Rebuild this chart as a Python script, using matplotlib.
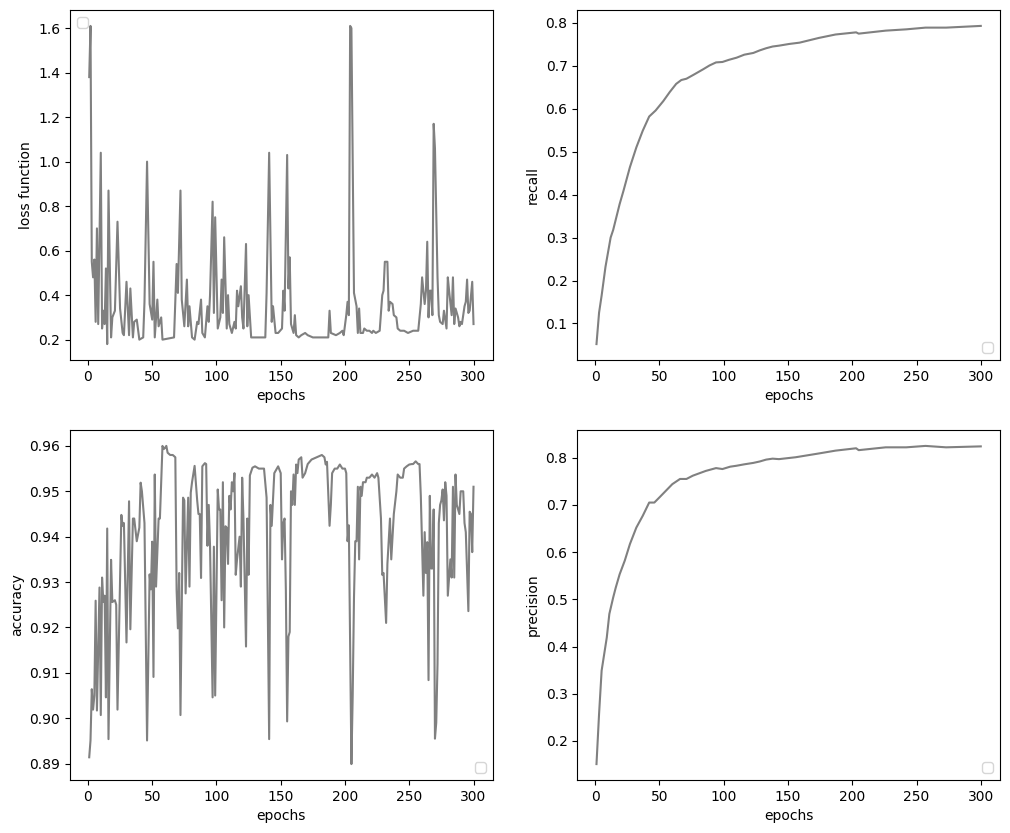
import matplotlib
matplotlib.use("Agg")
import matplotlib.pyplot as plt

# values (epoch, value)
loss_epochs = [1, 2, 3, 4, 5, 6, 7, 8, 10, 11, 12, 13, 14, 15, 16, 18, 19, 21, 23, 25,
               27, 28, 30, 32, 33, 35, 36, 38, 40, 43, 44, 46, 48, 50, 51, 52, 54, 55, 57, 58,
               67, 69, 70, 72, 73, 75, 77, 78, 79, 81, 83, 85, 86, 88, 89, 91, 93, 94, 95, 97,
               98, 99, 101, 103, 104, 105, 106, 108, 109, 110, 112, 114, 115, 116, 117, 119, 120, 121, 123, 124,
               125, 127, 138, 139, 141, 143, 144, 146, 148, 151, 152, 153, 155, 156, 157, 158, 160, 161, 162, 164,
               166, 169, 171, 175, 183, 187, 188, 189, 193, 196, 198, 199, 201, 202, 203, 204, 205, 207, 209, 210,
               211, 212, 214, 215, 217, 219, 221, 222, 224, 227, 229, 230, 231, 233, 234, 235, 237, 238, 240, 241,
               243, 246, 249, 253, 257, 259, 260, 262, 263, 264, 265, 266, 267, 268, 269, 270, 272, 273, 274, 276,
               277, 279, 280, 281, 283, 284, 285, 286, 288, 289, 290, 291, 293, 294, 295, 296, 297, 299, 300]
loss = [1.38, 1.61, 0.55, 0.48, 0.56, 0.28, 0.70, 0.27, 1.04, 0.25, 0.33, 0.27, 0.52, 0.18, 0.87, 0.21, 0.30, 0.33, 0.73, 0.34,
        0.23, 0.22, 0.46, 0.22, 0.43, 0.21, 0.28, 0.29, 0.20, 0.21, 0.37, 1.00, 0.36, 0.29, 0.55, 0.21, 0.38, 0.26, 0.30, 0.20,
        0.21, 0.54, 0.41, 0.87, 0.38, 0.26, 0.47, 0.26, 0.35, 0.21, 0.20, 0.28, 0.27, 0.38, 0.23, 0.21, 0.35, 0.28, 0.40, 0.82,
        0.32, 0.75, 0.25, 0.30, 0.47, 0.32, 0.66, 0.25, 0.40, 0.27, 0.23, 0.28, 0.25, 0.42, 0.35, 0.44, 0.30, 0.25, 0.63, 0.26,
        0.40, 0.21, 0.21, 0.41, 1.04, 0.28, 0.35, 0.23, 0.23, 0.25, 0.42, 0.33, 1.03, 0.43, 0.57, 0.27, 0.23, 0.31, 0.22, 0.21,
        0.22, 0.23, 0.22, 0.21, 0.21, 0.21, 0.33, 0.23, 0.22, 0.23, 0.24, 0.22, 0.31, 0.37, 0.31, 1.61, 1.60, 0.41, 0.35, 0.23,
        0.34, 0.23, 0.23, 0.25, 0.24, 0.24, 0.23, 0.24, 0.23, 0.24, 0.40, 0.42, 0.55, 0.55, 0.33, 0.37, 0.36, 0.31, 0.30, 0.25,
        0.24, 0.24, 0.23, 0.24, 0.24, 0.36, 0.48, 0.36, 0.42, 0.64, 0.30, 0.42, 0.42, 0.31, 1.17, 1.06, 0.48, 0.31, 0.28, 0.27,
        0.33, 0.25, 0.48, 0.42, 0.31, 0.48, 0.27, 0.34, 0.30, 0.26, 0.28, 0.27, 0.35, 0.37, 0.47, 0.32, 0.33, 0.46, 0.27]

acc_epochs = [1, 2, 3, 4, 5, 6, 7, 9, 10, 11, 12, 13, 14, 15, 16, 18, 19, 21, 22, 23,
              26, 27, 28, 30, 32, 33, 35, 36, 38, 40, 41, 42, 44, 46, 48, 49, 50, 51, 52, 53,
              55, 56, 58, 59, 60, 61, 62, 64, 66, 68, 69, 70, 71, 72, 74, 75, 76, 78, 79, 80,
              81, 83, 85, 86, 87, 88, 89, 91, 92, 93, 94, 95, 97, 98, 99, 101, 102, 103, 104, 105,
              106, 107, 108, 109, 110, 111, 112, 113, 114, 115, 116, 118, 119, 120, 121, 123, 124, 125, 126, 128,
              130, 133, 135, 137, 139, 141, 142, 143, 145, 147, 148, 150, 151, 152, 153, 154, 155, 156, 157, 158,
              159, 160, 161, 162, 163, 164, 166, 167, 169, 171, 174, 178, 182, 184, 185, 186, 188, 189, 190, 192,
              194, 196, 198, 200, 201, 202, 203, 205, 206, 207, 208, 209, 210, 211, 212, 213, 214, 216, 217, 219,
              221, 223, 225, 226, 228, 229, 230, 232, 233, 235, 236, 238, 240, 241, 243, 245, 246, 248, 250, 252,
              253, 255, 257, 258, 259, 261, 262, 263, 264, 265, 266, 267, 268, 269, 270, 271, 272, 273, 274, 275,
              276, 277, 278, 279, 280, 282, 283, 284, 285, 286, 287, 288, 289, 290, 292, 293, 294, 296, 297, 298,
              299, 300]
accuracy = [0.8914, 0.8951, 0.9064, 0.9019, 0.9050, 0.9259, 0.9017, 0.9288, 0.9007, 0.9310, 0.9256, 0.9270, 0.9046, 0.9418, 0.8954, 0.9349, 0.9256, 0.9260, 0.9250, 0.9019,
            0.9448, 0.9424, 0.9430, 0.9167, 0.9478, 0.9196, 0.9440, 0.9440, 0.9390, 0.9420, 0.9519, 0.9500, 0.9430, 0.8951, 0.9317, 0.9284, 0.9389, 0.9091, 0.9537, 0.9290,
            0.9440, 0.9440, 0.9600, 0.9593, 0.9596, 0.9600, 0.9585, 0.9580, 0.9580, 0.9575, 0.9282, 0.9198, 0.9320, 0.9007, 0.9486, 0.9480, 0.9275, 0.9486, 0.9290, 0.9497,
            0.9520, 0.9556, 0.9480, 0.9450, 0.9450, 0.9309, 0.9555, 0.9562, 0.9560, 0.9380, 0.9470, 0.9380, 0.9046, 0.9378, 0.9050, 0.9504, 0.9460, 0.9460, 0.9260, 0.9520,
            0.9200, 0.9423, 0.9420, 0.9340, 0.9490, 0.9460, 0.9520, 0.9500, 0.9540, 0.9316, 0.9350, 0.9400, 0.9290, 0.9530, 0.9440, 0.9158, 0.9440, 0.9316, 0.9535, 0.9552,
            0.9555, 0.9550, 0.9550, 0.9550, 0.9486, 0.8954, 0.9470, 0.9424, 0.9540, 0.9550, 0.9555, 0.9540, 0.9350, 0.9430, 0.9440, 0.9282, 0.8993, 0.9180, 0.9190, 0.9500,
            0.9470, 0.9537, 0.9470, 0.9559, 0.9540, 0.9570, 0.9575, 0.9530, 0.9540, 0.9560, 0.9570, 0.9575, 0.9580, 0.9575, 0.9559, 0.9565, 0.9424, 0.9470, 0.9540, 0.9550,
            0.9550, 0.9559, 0.9550, 0.9550, 0.9540, 0.9390, 0.9425, 0.8899, 0.9050, 0.9265, 0.9390, 0.9390, 0.9510, 0.9350, 0.9510, 0.9490, 0.9520, 0.9520, 0.9530, 0.9530,
            0.9537, 0.9530, 0.9540, 0.9530, 0.9440, 0.9316, 0.9320, 0.9210, 0.9340, 0.9440, 0.9350, 0.9450, 0.9500, 0.9537, 0.9530, 0.9530, 0.9550, 0.9555, 0.9559, 0.9560,
            0.9560, 0.9566, 0.9560, 0.9560, 0.9490, 0.9270, 0.9410, 0.9320, 0.9388, 0.9084, 0.9490, 0.9330, 0.9330, 0.9460, 0.8955, 0.8990, 0.9120, 0.9430, 0.9470, 0.9480,
            0.9504, 0.9436, 0.9520, 0.9490, 0.9270, 0.9350, 0.9310, 0.9510, 0.9310, 0.9537, 0.9470, 0.9460, 0.9450, 0.9500, 0.9500, 0.9430, 0.9410, 0.9236, 0.9455, 0.9450,
            0.9366, 0.9510]

recall_epochs = [1, 3, 5, 8, 12, 14, 19, 22, 27, 32, 37, 42, 47, 53, 58, 63, 67, 71, 77, 84,
                 89, 94, 99, 104, 110, 116, 123, 128, 133, 138, 143, 151, 159, 174, 187, 203, 205, 226, 242, 257,
                 273, 300]
recall = [0.052, 0.125, 0.165, 0.232, 0.300, 0.318, 0.378, 0.409, 0.464, 0.510, 0.549, 0.582, 0.596, 0.618, 0.639, 0.658, 0.667, 0.670, 0.680, 0.692,
          0.701, 0.708, 0.709, 0.714, 0.719, 0.726, 0.730, 0.736, 0.741, 0.745, 0.747, 0.751, 0.754, 0.765, 0.773, 0.778, 0.775, 0.782, 0.785, 0.789,
          0.789, 0.793]

precision_epochs = [1, 3, 5, 9, 11, 14, 16, 19, 23, 27, 32, 37, 42, 46, 50, 55, 60, 66, 71, 76,
                    81, 86, 94, 99, 105, 110, 116, 123, 128, 133, 138, 143, 156, 174, 187, 203, 205, 226, 242, 257,
                    273, 300]
precision = [0.151, 0.257, 0.349, 0.419, 0.469, 0.504, 0.525, 0.553, 0.582, 0.617, 0.652, 0.677, 0.705, 0.705, 0.716, 0.730, 0.744, 0.755, 0.755, 0.762,
             0.767, 0.772, 0.778, 0.776, 0.781, 0.783, 0.786, 0.789, 0.792, 0.796, 0.798, 0.797, 0.801, 0.809, 0.815, 0.820, 0.816, 0.822, 0.822, 0.825,
             0.822, 0.824]

fig, axes = plt.subplots(2, 2, figsize=(10.1, 8.33))
plt.subplots_adjust(left=70 / 1010, right=1000 / 1010, top=1 - 10 / 833, bottom=1 - 780 / 833,
                    wspace=0.2, hspace=0.2)

panels = [
    (axes[0, 0], loss_epochs, loss, "loss function", "upper left"),
    (axes[0, 1], recall_epochs, recall, "recall", "lower right"),
    (axes[1, 0], acc_epochs, accuracy, "accuracy", "lower right"),
    (axes[1, 1], precision_epochs, precision, "precision", "lower right"),
]

for ax, x, y, name, loc in panels:
    ax.plot(x, y, color="grey")
    ax.set_xlabel("epochs")
    ax.set_ylabel(name)
    ax.legend(handles=[], loc=loc)

plt.savefig("out.png", dpi=100)
